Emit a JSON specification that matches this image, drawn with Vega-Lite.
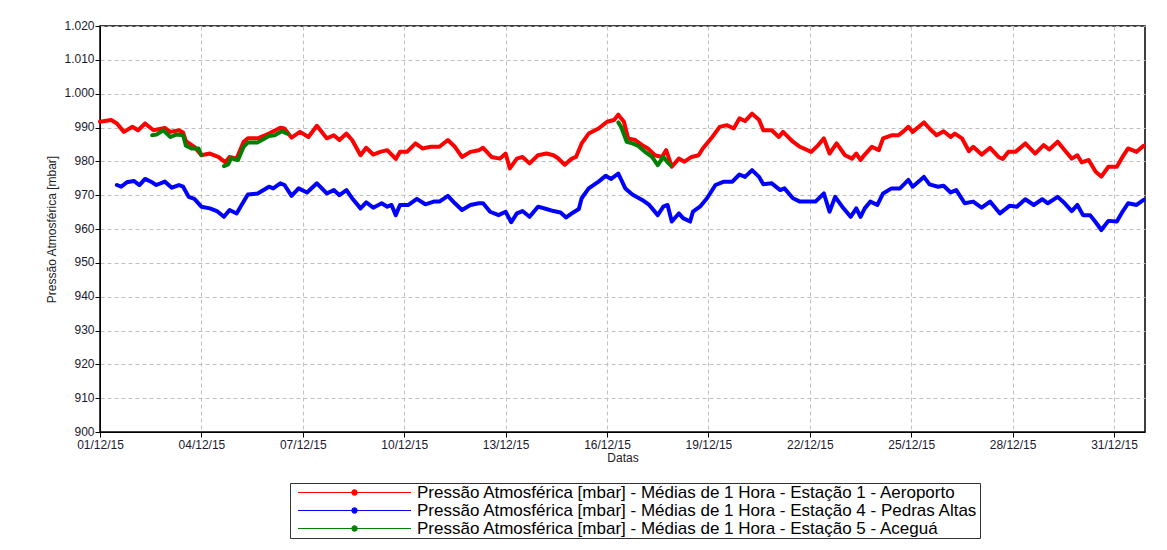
{
  "$schema": "https://vega.github.io/schema/vega-lite/v6.json",
  "width": 1045,
  "height": 406,
  "autosize": {"type": "none"},
  "padding": {"left": 100, "top": 26, "right": 22, "bottom": 118},
  "background": "white",
  "config": {
    "font": "Liberation Sans",
    "view": {"stroke": "#000", "strokeWidth": 1.5},
    "axis": {
      "labelFont": "Liberation Sans",
      "labelFontSize": 12,
      "labelColor": "#1a1a2e",
      "titleFont": "Liberation Sans",
      "titleFontSize": 12,
      "titleFontWeight": "normal",
      "titleColor": "#222",
      "domainColor": "#000",
      "tickColor": "#000",
      "tickSize": 5,
      "gridColor": "#c0c0c0",
      "gridDash": [4, 3],
      "gridWidth": 1
    }
  },
  "data": {
    "values": [
      {"t":"2015-12-01T00:00","s":"1","v":991.7},{"t":"2015-12-01T08:00","s":"1","v":992.2},{"t":"2015-12-01T12:00","s":"1","v":991.2},{"t":"2015-12-01T17:00","s":"1","v":988.7},{"t":"2015-12-01T23:00","s":"1","v":990.2},{"t":"2015-12-02T03:00","s":"1","v":989.2},{"t":"2015-12-02T08:00","s":"1","v":991.2},{"t":"2015-12-02T14:00","s":"1","v":989.2},{"t":"2015-12-02T22:00","s":"1","v":989.9},{"t":"2015-12-03T02:00","s":"1","v":988.7},{"t":"2015-12-03T08:00","s":"1","v":989.2},{"t":"2015-12-03T11:00","s":"1","v":988.5},{"t":"2015-12-03T13:00","s":"1","v":986},{"t":"2015-12-03T19:00","s":"1","v":984.3},{"t":"2015-12-04T00:00","s":"1","v":981.8},{"t":"2015-12-04T06:00","s":"1","v":982.3},{"t":"2015-12-04T12:00","s":"1","v":981.3},{"t":"2015-12-04T17:00","s":"1","v":979.7},{"t":"2015-12-04T20:00","s":"1","v":981.3},{"t":"2015-12-05T01:00","s":"1","v":980.8},{"t":"2015-12-05T06:00","s":"1","v":985.8},{"t":"2015-12-05T09:00","s":"1","v":986.8},{"t":"2015-12-05T16:00","s":"1","v":986.8},{"t":"2015-12-06T00:00","s":"1","v":988.2},{"t":"2015-12-06T08:00","s":"1","v":989.9},{"t":"2015-12-06T11:00","s":"1","v":989.7},{"t":"2015-12-06T16:00","s":"1","v":987},{"t":"2015-12-06T22:00","s":"1","v":988.7},{"t":"2015-12-07T04:00","s":"1","v":987.2},{"t":"2015-12-07T10:00","s":"1","v":990.5},{"t":"2015-12-07T17:00","s":"1","v":986.8},{"t":"2015-12-07T22:00","s":"1","v":987.7},{"t":"2015-12-08T02:00","s":"1","v":986.3},{"t":"2015-12-08T07:00","s":"1","v":988.2},{"t":"2015-12-08T11:00","s":"1","v":986.3},{"t":"2015-12-08T17:00","s":"1","v":981.8},{"t":"2015-12-08T21:00","s":"1","v":984},{"t":"2015-12-09T02:00","s":"1","v":982},{"t":"2015-12-09T07:00","s":"1","v":982.8},{"t":"2015-12-09T12:00","s":"1","v":983.3},{"t":"2015-12-09T18:00","s":"1","v":980.7},{"t":"2015-12-09T21:00","s":"1","v":982.8},{"t":"2015-12-10T02:00","s":"1","v":982.8},{"t":"2015-12-10T08:00","s":"1","v":985.3},{"t":"2015-12-10T13:00","s":"1","v":983.8},{"t":"2015-12-10T19:00","s":"1","v":984.3},{"t":"2015-12-11T01:00","s":"1","v":984.3},{"t":"2015-12-11T07:00","s":"1","v":986.3},{"t":"2015-12-11T12:00","s":"1","v":984.3},{"t":"2015-12-11T17:00","s":"1","v":981.3},{"t":"2015-12-11T23:00","s":"1","v":982.8},{"t":"2015-12-12T05:00","s":"1","v":983.3},{"t":"2015-12-12T08:00","s":"1","v":984},{"t":"2015-12-12T14:00","s":"1","v":981.3},{"t":"2015-12-12T20:00","s":"1","v":980.8},{"t":"2015-12-13T00:00","s":"1","v":982.3},{"t":"2015-12-13T03:00","s":"1","v":977.9},{"t":"2015-12-13T08:00","s":"1","v":980.8},{"t":"2015-12-13T12:00","s":"1","v":981.3},{"t":"2015-12-13T17:00","s":"1","v":979.4},{"t":"2015-12-13T23:00","s":"1","v":981.8},{"t":"2015-12-14T05:00","s":"1","v":982.3},{"t":"2015-12-14T10:00","s":"1","v":981.8},{"t":"2015-12-14T13:00","s":"1","v":981},{"t":"2015-12-14T18:00","s":"1","v":979},{"t":"2015-12-14T23:00","s":"1","v":980.8},{"t":"2015-12-15T02:00","s":"1","v":981.3},{"t":"2015-12-15T06:00","s":"1","v":985.3},{"t":"2015-12-15T11:00","s":"1","v":988.2},{"t":"2015-12-15T18:00","s":"1","v":989.7},{"t":"2015-12-16T00:00","s":"1","v":991.7},{"t":"2015-12-16T05:00","s":"1","v":992.2},{"t":"2015-12-16T08:00","s":"1","v":993.8},{"t":"2015-12-16T12:00","s":"1","v":991.7},{"t":"2015-12-16T15:00","s":"1","v":986.8},{"t":"2015-12-16T20:00","s":"1","v":986.3},{"t":"2015-12-17T01:00","s":"1","v":984.8},{"t":"2015-12-17T05:00","s":"1","v":983.8},{"t":"2015-12-17T10:00","s":"1","v":981.8},{"t":"2015-12-17T15:00","s":"1","v":981.3},{"t":"2015-12-17T18:00","s":"1","v":983.3},{"t":"2015-12-17T22:00","s":"1","v":978.4},{"t":"2015-12-18T03:00","s":"1","v":980.8},{"t":"2015-12-18T07:00","s":"1","v":979.9},{"t":"2015-12-18T12:00","s":"1","v":981.3},{"t":"2015-12-18T17:00","s":"1","v":981.8},{"t":"2015-12-18T20:00","s":"1","v":983.8},{"t":"2015-12-19T02:00","s":"1","v":986.8},{"t":"2015-12-19T08:00","s":"1","v":990.2},{"t":"2015-12-19T13:00","s":"1","v":990.7},{"t":"2015-12-19T18:00","s":"1","v":989.7},{"t":"2015-12-19T22:00","s":"1","v":992.7},{"t":"2015-12-20T02:00","s":"1","v":991.9},{"t":"2015-12-20T07:00","s":"1","v":994.1},{"t":"2015-12-20T12:00","s":"1","v":992.2},{"t":"2015-12-20T15:00","s":"1","v":989.2},{"t":"2015-12-20T21:00","s":"1","v":989.2},{"t":"2015-12-21T02:00","s":"1","v":987.2},{"t":"2015-12-21T05:00","s":"1","v":988.7},{"t":"2015-12-21T12:00","s":"1","v":985.8},{"t":"2015-12-21T17:00","s":"1","v":984.3},{"t":"2015-12-22T01:00","s":"1","v":982.8},{"t":"2015-12-22T06:00","s":"1","v":984.8},{"t":"2015-12-22T10:00","s":"1","v":986.8},{"t":"2015-12-22T14:00","s":"1","v":982.3},{"t":"2015-12-22T19:00","s":"1","v":985.3},{"t":"2015-12-23T01:00","s":"1","v":981.8},{"t":"2015-12-23T06:00","s":"1","v":980.8},{"t":"2015-12-23T09:00","s":"1","v":982.3},{"t":"2015-12-23T12:00","s":"1","v":980.4},{"t":"2015-12-23T15:00","s":"1","v":982},{"t":"2015-12-23T20:00","s":"1","v":984.3},{"t":"2015-12-24T01:00","s":"1","v":983.3},{"t":"2015-12-24T04:00","s":"1","v":986.8},{"t":"2015-12-24T10:00","s":"1","v":987.7},{"t":"2015-12-24T15:00","s":"1","v":987.7},{"t":"2015-12-24T18:00","s":"1","v":988.7},{"t":"2015-12-24T22:00","s":"1","v":990.2},{"t":"2015-12-25T01:00","s":"1","v":988.7},{"t":"2015-12-25T09:00","s":"1","v":991.5},{"t":"2015-12-25T13:00","s":"1","v":989.7},{"t":"2015-12-25T18:00","s":"1","v":987.7},{"t":"2015-12-25T23:00","s":"1","v":988.9},{"t":"2015-12-26T04:00","s":"1","v":987.2},{"t":"2015-12-26T07:00","s":"1","v":988.2},{"t":"2015-12-26T12:00","s":"1","v":986.8},{"t":"2015-12-26T17:00","s":"1","v":983},{"t":"2015-12-26T20:00","s":"1","v":984.3},{"t":"2015-12-27T02:00","s":"1","v":982},{"t":"2015-12-27T08:00","s":"1","v":984},{"t":"2015-12-27T14:00","s":"1","v":981.3},{"t":"2015-12-27T17:00","s":"1","v":980.7},{"t":"2015-12-27T21:00","s":"1","v":982.8},{"t":"2015-12-28T02:00","s":"1","v":982.8},{"t":"2015-12-28T09:00","s":"1","v":985.3},{"t":"2015-12-28T16:00","s":"1","v":982.3},{"t":"2015-12-28T22:00","s":"1","v":984.8},{"t":"2015-12-29T02:00","s":"1","v":983.5},{"t":"2015-12-29T08:00","s":"1","v":985.8},{"t":"2015-12-29T13:00","s":"1","v":983.3},{"t":"2015-12-29T18:00","s":"1","v":980.8},{"t":"2015-12-29T22:00","s":"1","v":981.8},{"t":"2015-12-30T01:00","s":"1","v":979.7},{"t":"2015-12-30T06:00","s":"1","v":980.4},{"t":"2015-12-30T11:00","s":"1","v":976.9},{"t":"2015-12-30T15:00","s":"1","v":975.5},{"t":"2015-12-30T20:00","s":"1","v":978.4},{"t":"2015-12-31T02:00","s":"1","v":978.4},{"t":"2015-12-31T06:00","s":"1","v":981.3},{"t":"2015-12-31T10:00","s":"1","v":983.8},{"t":"2015-12-31T16:00","s":"1","v":982.8},{"t":"2015-12-31T21:00","s":"1","v":984.6},
      {"t":"2015-12-01T12:00","s":"4","v":973},{"t":"2015-12-01T15:00","s":"4","v":972.5},{"t":"2015-12-01T19:00","s":"4","v":973.8},{"t":"2015-12-02T00:00","s":"4","v":974.2},{"t":"2015-12-02T04:00","s":"4","v":973},{"t":"2015-12-02T08:00","s":"4","v":974.8},{"t":"2015-12-02T13:00","s":"4","v":973.8},{"t":"2015-12-02T16:00","s":"4","v":973},{"t":"2015-12-02T22:00","s":"4","v":974},{"t":"2015-12-03T03:00","s":"4","v":972.2},{"t":"2015-12-03T08:00","s":"4","v":973},{"t":"2015-12-03T11:00","s":"4","v":972.5},{"t":"2015-12-03T15:00","s":"4","v":969.5},{"t":"2015-12-03T19:00","s":"4","v":968.9},{"t":"2015-12-04T00:00","s":"4","v":966.6},{"t":"2015-12-04T06:00","s":"4","v":966.1},{"t":"2015-12-04T11:00","s":"4","v":965.3},{"t":"2015-12-04T16:00","s":"4","v":963.6},{"t":"2015-12-04T20:00","s":"4","v":965.6},{"t":"2015-12-05T01:00","s":"4","v":964.6},{"t":"2015-12-05T06:00","s":"4","v":968.1},{"t":"2015-12-05T09:00","s":"4","v":970.2},{"t":"2015-12-05T16:00","s":"4","v":970.5},{"t":"2015-12-06T00:00","s":"4","v":972.5},{"t":"2015-12-06T03:00","s":"4","v":972},{"t":"2015-12-06T08:00","s":"4","v":973.5},{"t":"2015-12-06T11:00","s":"4","v":973},{"t":"2015-12-06T16:00","s":"4","v":969.8},{"t":"2015-12-06T21:00","s":"4","v":972},{"t":"2015-12-07T03:00","s":"4","v":970.8},{"t":"2015-12-07T10:00","s":"4","v":973.5},{"t":"2015-12-07T17:00","s":"4","v":970.5},{"t":"2015-12-07T22:00","s":"4","v":971.5},{"t":"2015-12-08T02:00","s":"4","v":970},{"t":"2015-12-08T07:00","s":"4","v":971.5},{"t":"2015-12-08T11:00","s":"4","v":969.1},{"t":"2015-12-08T17:00","s":"4","v":966.1},{"t":"2015-12-08T21:00","s":"4","v":967.9},{"t":"2015-12-09T02:00","s":"4","v":966.3},{"t":"2015-12-09T08:00","s":"4","v":967.6},{"t":"2015-12-09T12:00","s":"4","v":966.6},{"t":"2015-12-09T15:00","s":"4","v":967.1},{"t":"2015-12-09T18:00","s":"4","v":964.1},{"t":"2015-12-09T21:00","s":"4","v":967.1},{"t":"2015-12-10T03:00","s":"4","v":967.1},{"t":"2015-12-10T09:00","s":"4","v":968.9},{"t":"2015-12-10T15:00","s":"4","v":967.3},{"t":"2015-12-10T21:00","s":"4","v":968.1},{"t":"2015-12-11T01:00","s":"4","v":968.1},{"t":"2015-12-11T07:00","s":"4","v":969.8},{"t":"2015-12-11T12:00","s":"4","v":967.6},{"t":"2015-12-11T17:00","s":"4","v":965.6},{"t":"2015-12-11T23:00","s":"4","v":967.1},{"t":"2015-12-12T05:00","s":"4","v":967.6},{"t":"2015-12-12T08:00","s":"4","v":967.6},{"t":"2015-12-12T13:00","s":"4","v":965.1},{"t":"2015-12-12T19:00","s":"4","v":964.1},{"t":"2015-12-13T00:00","s":"4","v":965.1},{"t":"2015-12-13T04:00","s":"4","v":962},{"t":"2015-12-13T08:00","s":"4","v":964.6},{"t":"2015-12-13T12:00","s":"4","v":965.3},{"t":"2015-12-13T17:00","s":"4","v":963.6},{"t":"2015-12-13T23:00","s":"4","v":966.6},{"t":"2015-12-14T05:00","s":"4","v":965.9},{"t":"2015-12-14T10:00","s":"4","v":965.3},{"t":"2015-12-14T15:00","s":"4","v":964.9},{"t":"2015-12-14T19:00","s":"4","v":963.4},{"t":"2015-12-15T00:00","s":"4","v":964.9},{"t":"2015-12-15T04:00","s":"4","v":965.9},{"t":"2015-12-15T06:00","s":"4","v":969.1},{"t":"2015-12-15T11:00","s":"4","v":972},{"t":"2015-12-15T18:00","s":"4","v":974},{"t":"2015-12-15T23:00","s":"4","v":975.7},{"t":"2015-12-16T03:00","s":"4","v":974.8},{"t":"2015-12-16T08:00","s":"4","v":976.4},{"t":"2015-12-16T13:00","s":"4","v":972},{"t":"2015-12-16T18:00","s":"4","v":970.2},{"t":"2015-12-17T01:00","s":"4","v":968.6},{"t":"2015-12-17T06:00","s":"4","v":967.1},{"t":"2015-12-17T12:00","s":"4","v":964.1},{"t":"2015-12-17T16:00","s":"4","v":966.6},{"t":"2015-12-17T19:00","s":"4","v":967.1},{"t":"2015-12-17T22:00","s":"4","v":962.2},{"t":"2015-12-18T03:00","s":"4","v":964.6},{"t":"2015-12-18T06:00","s":"4","v":963.2},{"t":"2015-12-18T11:00","s":"4","v":962.2},{"t":"2015-12-18T13:00","s":"4","v":965.1},{"t":"2015-12-18T18:00","s":"4","v":966.6},{"t":"2015-12-18T23:00","s":"4","v":969.1},{"t":"2015-12-19T05:00","s":"4","v":973},{"t":"2015-12-19T11:00","s":"4","v":974},{"t":"2015-12-19T17:00","s":"4","v":974},{"t":"2015-12-19T22:00","s":"4","v":976.1},{"t":"2015-12-20T02:00","s":"4","v":975.4},{"t":"2015-12-20T07:00","s":"4","v":977.4},{"t":"2015-12-20T12:00","s":"4","v":975.4},{"t":"2015-12-20T15:00","s":"4","v":973.2},{"t":"2015-12-20T21:00","s":"4","v":973.5},{"t":"2015-12-21T03:00","s":"4","v":971.5},{"t":"2015-12-21T06:00","s":"4","v":972},{"t":"2015-12-21T12:00","s":"4","v":969.1},{"t":"2015-12-21T17:00","s":"4","v":968.1},{"t":"2015-12-21T23:00","s":"4","v":968.1},{"t":"2015-12-22T04:00","s":"4","v":968.1},{"t":"2015-12-22T10:00","s":"4","v":970.5},{"t":"2015-12-22T14:00","s":"4","v":965.1},{"t":"2015-12-22T18:00","s":"4","v":969.5},{"t":"2015-12-22T23:00","s":"4","v":966.6},{"t":"2015-12-23T05:00","s":"4","v":963.6},{"t":"2015-12-23T09:00","s":"4","v":966.1},{"t":"2015-12-23T12:00","s":"4","v":963.6},{"t":"2015-12-23T15:00","s":"4","v":966.1},{"t":"2015-12-23T19:00","s":"4","v":968.1},{"t":"2015-12-24T00:00","s":"4","v":967.1},{"t":"2015-12-24T04:00","s":"4","v":970.5},{"t":"2015-12-24T10:00","s":"4","v":972},{"t":"2015-12-24T16:00","s":"4","v":972},{"t":"2015-12-24T22:00","s":"4","v":974.5},{"t":"2015-12-25T01:00","s":"4","v":972.5},{"t":"2015-12-25T09:00","s":"4","v":975.4},{"t":"2015-12-25T13:00","s":"4","v":973.2},{"t":"2015-12-25T19:00","s":"4","v":972.5},{"t":"2015-12-25T23:00","s":"4","v":972.8},{"t":"2015-12-26T04:00","s":"4","v":970.8},{"t":"2015-12-26T08:00","s":"4","v":971.5},{"t":"2015-12-26T14:00","s":"4","v":967.6},{"t":"2015-12-26T20:00","s":"4","v":968.1},{"t":"2015-12-27T02:00","s":"4","v":966.3},{"t":"2015-12-27T08:00","s":"4","v":968.1},{"t":"2015-12-27T15:00","s":"4","v":964.6},{"t":"2015-12-27T22:00","s":"4","v":966.9},{"t":"2015-12-28T03:00","s":"4","v":966.6},{"t":"2015-12-28T09:00","s":"4","v":968.8},{"t":"2015-12-28T15:00","s":"4","v":967.1},{"t":"2015-12-28T21:00","s":"4","v":968.8},{"t":"2015-12-29T01:00","s":"4","v":967.6},{"t":"2015-12-29T08:00","s":"4","v":969.5},{"t":"2015-12-29T13:00","s":"4","v":967.6},{"t":"2015-12-29T18:00","s":"4","v":965.3},{"t":"2015-12-29T22:00","s":"4","v":967.1},{"t":"2015-12-30T02:00","s":"4","v":964.1},{"t":"2015-12-30T07:00","s":"4","v":964.1},{"t":"2015-12-30T11:00","s":"4","v":962},{"t":"2015-12-30T15:00","s":"4","v":959.7},{"t":"2015-12-30T20:00","s":"4","v":962.4},{"t":"2015-12-31T02:00","s":"4","v":962.2},{"t":"2015-12-31T06:00","s":"4","v":965.1},{"t":"2015-12-31T10:00","s":"4","v":967.6},{"t":"2015-12-31T16:00","s":"4","v":967.1},{"t":"2015-12-31T21:00","s":"4","v":968.6},
      {"t":"2015-12-02T13:00","s":"5","g":"a","v":987.7},{"t":"2015-12-02T16:00","s":"5","g":"a","v":987.9},{"t":"2015-12-02T21:00","s":"5","g":"a","v":989.2},{"t":"2015-12-03T02:00","s":"5","g":"a","v":987.2},{"t":"2015-12-03T06:00","s":"5","g":"a","v":987.9},{"t":"2015-12-03T11:00","s":"5","g":"a","v":987.7},{"t":"2015-12-03T13:00","s":"5","g":"a","v":984.6},{"t":"2015-12-03T17:00","s":"5","g":"a","v":983.8},{"t":"2015-12-03T22:00","s":"5","g":"a","v":983.8},{"t":"2015-12-04T00:00","s":"5","g":"a","v":981.8},
      {"t":"2015-12-04T16:00","s":"5","g":"b","v":978.6},{"t":"2015-12-04T19:00","s":"5","g":"b","v":979.1},{"t":"2015-12-04T21:00","s":"5","g":"b","v":980.9},{"t":"2015-12-05T02:00","s":"5","g":"b","v":980.4},{"t":"2015-12-05T06:00","s":"5","g":"b","v":984.3},{"t":"2015-12-05T09:00","s":"5","g":"b","v":985.6},{"t":"2015-12-05T16:00","s":"5","g":"b","v":985.6},{"t":"2015-12-06T00:00","s":"5","g":"b","v":987.5},{"t":"2015-12-06T04:00","s":"5","g":"b","v":987.7},{"t":"2015-12-06T09:00","s":"5","g":"b","v":988.9},{"t":"2015-12-06T13:00","s":"5","g":"b","v":988.2},
      {"t":"2015-12-16T08:00","s":"5","g":"c","v":991.5},{"t":"2015-12-16T10:00","s":"5","g":"c","v":990.2},{"t":"2015-12-16T14:00","s":"5","g":"c","v":985.8},{"t":"2015-12-16T18:00","s":"5","g":"c","v":985.3},{"t":"2015-12-16T22:00","s":"5","g":"c","v":984.6},{"t":"2015-12-17T03:00","s":"5","g":"c","v":982.8},{"t":"2015-12-17T08:00","s":"5","g":"c","v":981.3},{"t":"2015-12-17T12:00","s":"5","g":"c","v":978.9},{"t":"2015-12-17T16:00","s":"5","g":"c","v":981.3},{"t":"2015-12-17T19:00","s":"5","g":"c","v":979.7},{"t":"2015-12-17T21:00","s":"5","g":"c","v":978.9}
    ]
  },
  "mark": {"type": "line", "strokeWidth": 4, "strokeJoin": "round", "strokeCap": "round"},
  "encoding": {
    "x": {
      "field": "t",
      "type": "temporal",
      "scale": {"domain": [{"year": 2015, "month": 12, "date": 1}, {"year": 2015, "month": 12, "date": 31, "hours": 22}]},
      "axis": {"title": "Datas", "format": "%d/%m/%y", "tickCount": {"interval": "day", "step": 3}, "labelPadding": 2, "titlePadding": 2, "labelAngle": 0, "labelOverlap": false, "labelFlush": false, "grid": true}
    },
    "y": {
      "field": "v",
      "type": "quantitative",
      "scale": {"domain": [900, 1020], "nice": false, "zero": false},
      "axis": {"title": "Pressão Atmosférica [mbar]", "values": [900, 910, 920, 930, 940, 950, 960, 970, 980, 990, 1000, 1010, 1020], "labelExpr": "replace(format(datum.value, ','), ',', '.')", "labelPadding": 1, "labelOffset": -1, "titlePadding": 5, "grid": true}
    },
    "color": {
      "field": "s",
      "type": "nominal",
      "scale": {"domain": ["1", "4", "5"], "range": ["#ff0000", "#0000ff", "#008000"]},
      "legend": {
        "title": null,
        "orient": "none",
        "legendX": 190,
        "legendY": 457,
        "direction": "vertical",
        "symbolType": "M-1,0H1M-0.045,0A0.045,0.045,0,1,0,0.045,0A0.045,0.045,0,1,0,-0.045,0Z",
        "symbolSize": 12769,
        "symbolStrokeWidth": 1.2,
        "clipHeight": 17,
        "rowPadding": 0,
        "padding": 1,
        "symbolOffset": 6,
        "labelOffset": 5,
        "labelFont": "Liberation Sans",
        "labelFontSize": 17,
        "labelColor": "#000",
        "labelLimit": 900,
        "strokeColor": "#333",
        "fillColor": "#fff",
        "labelExpr": "datum.label == '1' ? 'Pressão Atmosférica [mbar] - Médias de 1 Hora - Estação 1 - Aeroporto' : datum.label == '4' ? 'Pressão Atmosférica [mbar] - Médias de 1 Hora - Estação 4 - Pedras Altas' : 'Pressão Atmosférica [mbar] - Médias de 1 Hora - Estação 5 - Aceguá'",
        "encode": {"symbols": {"update": {"fill": {"scale": "color", "field": "value"}, "strokeWidth": {"value": 1.2}}}}
      }
    },
    "detail": {"field": "g"}
  }
}
